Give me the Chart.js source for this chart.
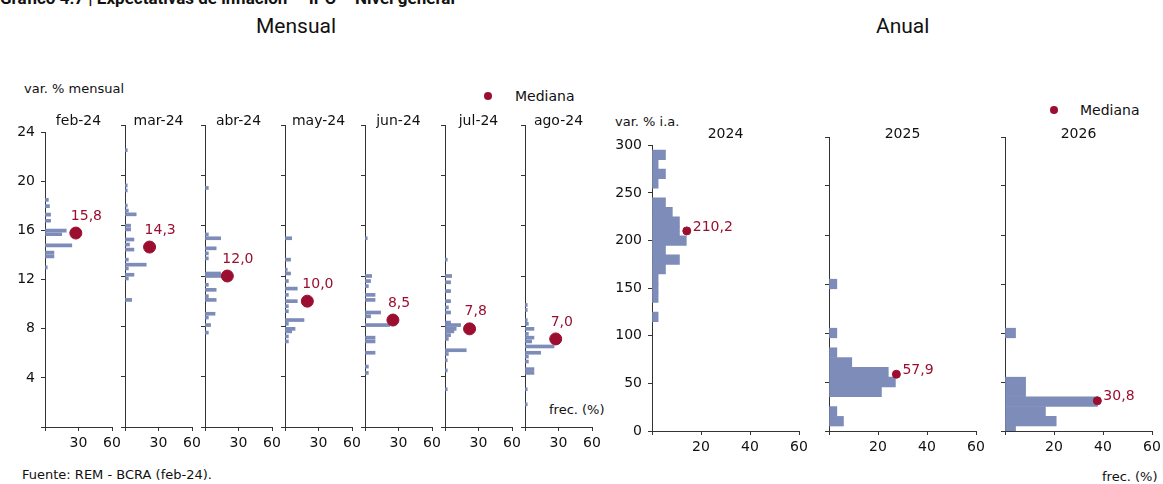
<!DOCTYPE html>
<html lang="es">
<head>
<meta charset="UTF-8">
<title>Expectativas de inflación</title>
<style>
  body { margin: 0; width: 1163px; height: 484px; position: relative; overflow: hidden; background: #fff; font-family: "DejaVu Sans", sans-serif; color: #111; }
  .t { position: absolute; white-space: nowrap; }
  canvas { position: absolute; }
  .dot { position: absolute; border-radius: 50%; background: #9b0e2f; }
</style>
</head>
<body>
<div class="t" style="left:0;top:-12px;font:bold 17px Roboto,sans-serif;">Gráfico 4.7 | Expectativas de inflación — IPC – Nivel general</div>
<div class="t" style="left:256px;top:14px;font:21px Roboto,sans-serif;">Mensual</div>
<div class="t" style="left:876px;top:14px;font:21px Roboto,sans-serif;">Anual</div>
<div class="t" style="left:24px;top:81px;font-size:13px;">var. % mensual</div>
<div class="dot" style="left:484px;top:92px;width:8px;height:8px;"></div>
<div class="t" style="left:515px;top:88px;font-size:14px;">Mediana</div>
<div class="dot" style="left:1050px;top:106px;width:8px;height:8px;"></div>
<div class="t" style="left:1080px;top:102px;font-size:14px;">Mediana</div>
<div class="t" style="left:615px;top:114px;font-size:13px;">var. % i.a.</div>
<div class="t" style="left:549px;top:402px;font-size:13px;">frec. (%)</div>
<div class="t" style="left:1102px;top:469px;font-size:13px;">frec. (%)</div>
<div class="t" style="left:22px;top:467px;font-size:13px;">Fuente: REM - BCRA (feb-24).</div>
<div id="wrap"></div>

<script src="https://cdn.jsdelivr.net/npm/chart.js"></script>
<script>
// Mensual: bin center (var. % mensual) and frequency (%)
const monthLabels = ['feb-24', 'mar-24', 'abr-24', 'may-24', 'jun-24', 'jul-24', 'ago-24'];
const feb24Values = [18.5, 18.0, 17.3, 16.8, 16.0, 15.7, 14.8, 14.2, 13.9, 13.0];
const feb24Freq   = [3, 4, 5, 5, 19, 15, 24, 8, 8, 2];
const mar24Values = [22.0, 19.2, 18.8, 17.6, 17.2, 16.9, 16.0, 15.7, 14.9, 14.5, 14.1, 13.3, 12.9, 12.6, 12.1, 11.8, 10.1];
const mar24Freq   = [2, 2, 2, 2, 3, 10, 5, 5, 8, 4, 8, 3, 19, 3, 8, 3, 6];
const abr24Values = [19.0, 15.3, 15.0, 14.2, 13.8, 13.4, 12.2, 12.0, 11.3, 10.9, 10.4, 10.1, 9.0, 8.7, 8.1, 7.5];
const abr24Freq   = [3, 3, 14, 10, 3, 3, 14, 17, 3, 10, 3, 10, 9, 3, 5, 3];
const may24Values = [15.0, 13.3, 12.5, 12.2, 11.6, 11.0, 10.5, 10.0, 9.6, 9.2, 8.5, 8.2, 7.8, 7.6, 7.2, 6.8];
const may24Freq   = [6, 5, 2, 5, 3, 11, 3, 11, 3, 3, 17, 3, 9, 6, 3, 3];
const jun24Values = [15.0, 12.0, 11.6, 11.2, 10.5, 10.1, 9.1, 8.8, 8.1, 7.1, 6.8, 5.9, 4.8, 4.3];
const jun24Freq   = [2, 6, 5, 3, 9, 9, 14, 5, 22, 9, 9, 9, 3, 3];
const jul24Values = [13.3, 12.0, 11.5, 10.8, 10.0, 9.5, 9.1, 8.3, 8.1, 7.8, 7.6, 7.3, 7.0, 6.1, 5.8, 5.3, 4.5, 3.0];
const jul24Freq   = [2, 6, 5, 5, 5, 3, 5, 5, 14, 10, 8, 5, 3, 19, 3, 2, 2, 2];
const ago24Values = [9.7, 9.3, 8.5, 8.2, 7.8, 7.4, 7.1, 6.8, 6.4, 5.9, 5.6, 5.2, 4.6, 4.3, 3.0, 1.8];
const ago24Freq   = [2, 2, 2, 3, 8, 3, 8, 6, 26, 14, 3, 3, 8, 8, 2, 2];
const monthMedians    = [15.8, 14.3, 12.0, 10.0, 8.5, 7.8, 7.0];
const monthMedianFreq = [27.6, 22, 20, 20, 25, 22, 27.5];

// Anual: bins of 10 pp
const yearLabels = ['2024', '2025', '2026'];
const y2024Values = [290, 280, 270, 260, 240, 230, 220, 210, 200, 190, 180, 170, 160, 150, 140, 120];
const y2024Freq   = [5.5, 2.5, 5.5, 2.5, 5.5, 8.3, 11.2, 11.2, 14, 5.5, 11.2, 5.5, 2.5, 2.5, 2.5, 2.5];
const y2025Values = [150, 100, 80, 70, 60, 50, 40, 20, 10];
const y2025Freq   = [3.2, 3.2, 3.2, 9.3, 24.2, 27.1, 21.4, 3.2, 5.9];
const y2026Values = [100, 50, 40, 30, 20, 10, 0];
const y2026Freq   = [4.3, 8.4, 8.4, 37.7, 16.5, 20.9, 4.3];
const yearMedians    = [210.2, 57.9, 30.8];
const yearMedianFreq = [14.2, 27.5, 37.7];

const monthValues = [feb24Values, mar24Values, abr24Values, may24Values, jun24Values, jul24Values, ago24Values];
const monthFreqs  = [feb24Freq, mar24Freq, abr24Freq, may24Freq, jun24Freq, jul24Freq, ago24Freq];
const yearValues  = [y2024Values, y2025Values, y2026Values];
const yearFreqs   = [y2024Freq, y2025Freq, y2026Freq];

const BAR = '#7d8cb8';
const RED = '#9b0e2f';
const fmt = v => v.toFixed(1).replace('.', ',');

const medianLabel = {
  id: 'medianLabel',
  afterDatasetsDraw(chart, args, opts) {
    const meta = chart.getDatasetMeta(1);
    const ctx = chart.ctx;
    meta.data.forEach((pt, i) => {
      ctx.save();
      ctx.fillStyle = opts.color;
      ctx.font = opts.font;
      ctx.textBaseline = 'middle';
      ctx.fillText(fmt(chart.data.datasets[1].data[i].y), pt.x + opts.dx, pt.y + opts.dy);
      ctx.restore();
    });
  }
};

function panel(cfg) {
  const c = document.createElement('canvas');
  c.width = cfg.w; c.height = cfg.h;
  c.style.left = cfg.left + 'px'; c.style.top = cfg.top + 'px';
  document.getElementById('wrap').appendChild(c);
  const t = document.createElement('div');
  t.className = 't';
  t.style.cssText = `left:${cfg.left + cfg.yW}px;width:${cfg.areaW}px;top:${cfg.titleTop}px;text-align:center;font-size:${cfg.titleSize}px;`;
  t.textContent = cfg.title;
  document.body.appendChild(t);

  const data = cfg.values.map((v, i) => ({ x: cfg.freqs[i], y: v }));
  new Chart(c, {
    type: 'bar',
    data: {
      datasets: [
        { data, backgroundColor: BAR, barThickness: cfg.barT, order: 2 },
        { type: 'scatter', data: [{ x: cfg.medFreq, y: cfg.median }], backgroundColor: RED,
          borderColor: RED, pointRadius: cfg.r, order: 1 }
      ]
    },
    options: {
      indexAxis: 'y',
      responsive: false,
      animation: false,
      layout: { padding: { top: cfg.padTop, right: cfg.w - cfg.yW - cfg.areaW, left: 0, bottom: 0 } },
      plugins: {
        legend: { display: false }, tooltip: { enabled: false },
        medianLabel: { color: RED, font: cfg.labelFont, dx: cfg.dx, dy: cfg.dy }
      },
      scales: {
        y: {
          type: 'linear', min: 0, max: cfg.yMax, offset: false,
          afterFit: s => { s.width = cfg.yW; },
          ticks: { display: cfg.showY, stepSize: cfg.yStep, color: '#111', font: { size: 14, family: 'DejaVu Sans' }, padding: 6,
                   callback: v => (v === 0 && !cfg.showZero) ? '' : v },
          grid: { drawOnChartArea: false, offset: false, tickLength: 4, color: '#333' },
          border: { color: '#333' }
        },
        x: {
          type: 'linear', min: 0, max: 60,
          afterFit: s => { s.height = 30; },
          ticks: { stepSize: cfg.xStep, color: '#111', font: { size: 14, family: 'DejaVu Sans' },
                   callback: v => v === 0 ? '' : v, padding: 4 },
          grid: { drawOnChartArea: false, tickLength: 4, color: '#333' },
          border: { color: '#333' }
        }
      }
    },
    plugins: [medianLabel]
  });
}

monthLabels.forEach((m, i) => {
  const yW = 45;
  panel({
    title: m, titleTop: 112, titleSize: 14,
    left: 45 + i * 80 - yW, top: 118, w: yW + 67 + 14, h: 339, yW, areaW: 67, padTop: 6,
    values: monthValues[i], freqs: monthFreqs[i], median: monthMedians[i], medFreq: monthMedianFreq[i],
    yMax: 24, yStep: 4, showZero: false, showY: i === 0, xStep: 30, barT: 3, r: 6,
    labelFont: '14px "DejaVu Sans"', dx: -5, dy: -17
  });
});

yearLabels.forEach((y, i) => {
  const yW = 52;
  const axisX = [652, 829, 1005][i];
  panel({
    title: y, titleTop: 125, titleSize: 14,
    left: axisX - yW, top: 131, w: yW + 147 + 14, h: 330, yW, areaW: 147, padTop: 6,
    values: yearValues[i], freqs: yearFreqs[i], median: yearMedians[i], medFreq: yearMedianFreq[i],
    yMax: 300, yStep: 50, showZero: true, showY: i === 0, xStep: 20, barT: 9.6, r: 4,
    labelFont: '14px "DejaVu Sans"', dx: 6, dy: -4
  });
});
</script>
</body>
</html>
